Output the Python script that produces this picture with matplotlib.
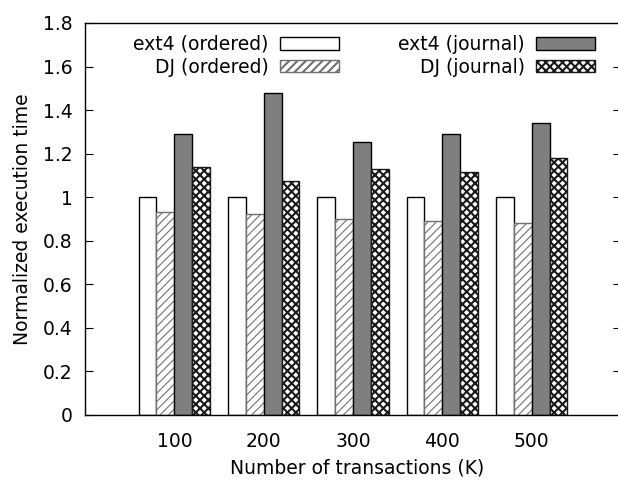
import matplotlib.pyplot as plt
import numpy as np
from matplotlib.ticker import FormatStrFormatter

transactions = ['100', '200', '300', '400', '500']
ext4_ordered = [1.0, 1.0, 1.0, 1.0, 1.0]
dj_ordered = [0.93, 0.925, 0.90, 0.89, 0.88]
ext4_journal = [1.29, 1.48, 1.255, 1.29, 1.34]
dj_journal = [1.14, 1.075, 1.13, 1.115, 1.18]

plt.rcParams['font.family'] = 'DejaVu Sans'
fs = 13.5

fig = plt.figure(figsize=(6.18, 4.83), dpi=100)
ax = fig.add_axes([85 / 618, 1 - 415 / 483, 545 / 618, 392 / 483])

x = np.arange(1, len(transactions) + 1)
w = 0.2
plt.rcParams['hatch.linewidth'] = 0.8
b1 = ax.bar(x - 1.5 * w, ext4_ordered, w, facecolor='white', edgecolor='black', lw=1, label='ext4 (ordered)')
b2 = ax.bar(x - 0.5 * w, dj_ordered, w, facecolor='white', edgecolor='#707070', hatch='////', lw=1, label='DJ (ordered)')
b3 = ax.bar(x + 0.5 * w, ext4_journal, w, facecolor='#7f7f7f', edgecolor='black', lw=1, label='ext4 (journal)')
plt.rcParams['hatch.linewidth'] = 1.5
b4 = ax.bar(x + 1.5 * w, dj_journal, w, facecolor='white', edgecolor='#1a1a1a', hatch='xxxx', lw=1, label='DJ (journal)')

# the right border of the frame falls just outside the image
ax.set_xlim(0, 545 / (536 / 6))
ax.set_ylim(0, 1.8)
ax.set_xticks(x)
ax.set_xticklabels(transactions)
ax.set_yticks(np.arange(0, 1.81, 0.2))
ax.yaxis.set_major_formatter(FormatStrFormatter('%g'))
ax.tick_params(axis='y', direction='in', length=6, labelsize=fs, pad=9)
ax.tick_params(axis='x', length=0, labelsize=fs, pad=12)
for s in ax.spines.values():
    s.set_linewidth(1)

# mirrored inward ticks at the image edge
sec = ax.secondary_yaxis(536 / 545)
sec.set_yticks(np.arange(0.2, 1.61, 0.2))
sec.tick_params(direction='in', length=6, labelright=False)
sec.spines['right'].set_visible(False)

ax.set_xlabel('Number of transactions (K)', fontsize=fs, labelpad=6)
ax.set_ylabel('Normalized execution time', fontsize=fs, labelpad=8)

ax.legend(handles=[b1, b2, b3, b4], ncol=2, frameon=False, markerfirst=False,
          loc='upper left', bbox_to_anchor=(0.061, 1.008), fontsize=fs,
          handlelength=3.15, handleheight=0.65, columnspacing=3.15, labelspacing=0.2,
          handletextpad=0.6, borderpad=0.3)

fig.savefig('out.png', dpi=100)
